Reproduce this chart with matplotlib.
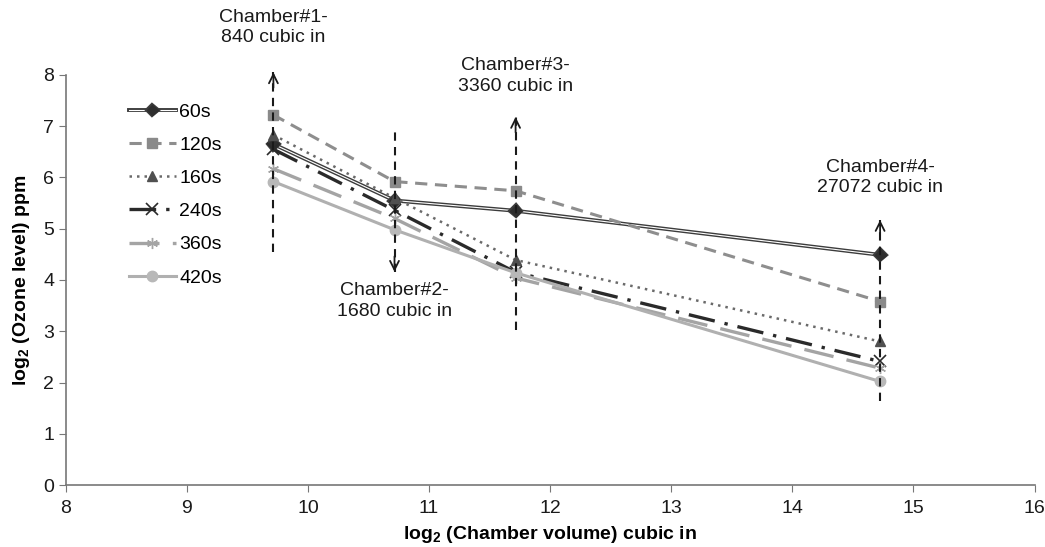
import numpy as np
import matplotlib
matplotlib.use("Agg")
from matplotlib import pyplot as plt
import matplotlib.patheffects as pe

plt.rcParams['font.family'] = ['Liberation Sans', 'DejaVu Sans']
plt.rcParams['mathtext.fontset'] = 'custom'
plt.rcParams['mathtext.rm'] = 'Liberation Sans'
plt.rcParams['mathtext.bf'] = 'Liberation Sans:bold'

# chamber volumes (cubic in) and ozone levels, log2 scale
volumes = [840, 1680, 3360, 27072]
x_vals = np.log2(volumes)

y_60s = [6.65, 5.55, 5.35, 4.49]
y_120s = [7.22, 5.92, 5.74, 3.58]
y_160s = [6.83, 5.60, 4.39, 2.80]
y_240s = [6.55, 5.36, 4.15, 2.41]
y_360s = [6.17, 5.20, 4.04, 2.28]
y_420s = [5.92, 4.98, 4.14, 2.02]

chamber_labels = ["Chamber#1-\n840 cubic in", "Chamber#2-\n1680 cubic in",
                  "Chamber#3-\n3360 cubic in", "Chamber#4-\n27072 cubic in"]

fig = plt.figure(figsize=(10.45, 5.47), dpi=100)
ax = fig.add_axes([0.063, 0.1133, 0.927, 0.7497])

# 60s: double line (dark outline, white core)
ax.plot(x_vals, y_60s, color='white', lw=0.8, marker='D', ms=5.5,
        mfc='#2e2e2e', mec='#2e2e2e', label='60s',
        path_effects=[pe.Stroke(linewidth=2.8, foreground='#3c3c3c'), pe.Normal()])
ax.plot(x_vals, y_120s, color='#8e8e8e', lw=2.2, ls=(0, (4, 2.5)), marker='s', ms=7,
        mfc='#8a8a8a', mec='#8a8a8a', label='120s')
ax.plot(x_vals, y_160s, color='#6a6a6a', lw=1.8, ls=(0, (1, 2)), marker='^', ms=7,
        mfc='#505050', mec='#505050', label='160s')
ax.plot(x_vals, y_240s, color='#2a2a2a', lw=2.4, ls=(0, (8, 3, 1, 3)), marker='x', ms=8,
        mew=1.2, mec='#2a2a2a', label='240s')
ax.plot(x_vals, y_360s, color='#a4a4a4', lw=2.4, ls=(0, (9, 4)), marker=(6, 2, 0), ms=8,
        mew=1.0, mec='#a4a4a4', label='360s')
ax.plot(x_vals, y_420s, color='#b0b0b0', lw=2.2, marker='o', ms=7.5,
        mfc='#b8b8b8', mec='#b8b8b8', label='420s')

# vertical dashed arrows through each chamber
arrow_lo = [4.55, 4.16, 3.02, 1.63]
arrow_hi = [8.05, 6.97, 7.18, 5.17]
arrow_up = [True, False, True, True]
for xv, lo, hi, up in zip(x_vals, arrow_lo, arrow_hi, arrow_up):
    ax.plot([xv, xv], [lo, hi], color='#1a1a1a', lw=1.5, ls=(0, (4, 3)), zorder=5,
            clip_on=False)
    tip, tail = (hi, hi - 0.3) if up else (lo, lo + 0.3)
    ax.annotate('', xy=(xv, tip), xytext=(xv, tail), zorder=6, annotation_clip=False,
                arrowprops=dict(arrowstyle='->', color='#1a1a1a', lw=1.3,
                                mutation_scale=16, shrinkA=0, shrinkB=0))

label_pos = [(x_vals[0], 8.92), (x_vals[1], 3.59), (x_vals[2], 7.98), (x_vals[3], 6.0)]
for (lx, ly), txt in zip(label_pos, chamber_labels):
    ax.text(lx, ly, txt, ha='center', va='center', fontsize=14, linespacing=1.25,
            color='#1a1a1a', clip_on=False)

ax.set_xlim(8, 16)
ax.set_ylim(0, 8)
ax.set_xticks(range(8, 17))
ax.set_yticks(range(0, 9))
ax.tick_params(labelsize=14, length=5, color='#777777', direction='out',
               labelcolor='#1a1a1a')
ax.tick_params(axis='x', pad=6)
for side in ['top', 'right']:
    ax.spines[side].set_visible(False)
for side in ['left', 'bottom']:
    ax.spines[side].set_color('#777777')
    ax.spines[side].set_linewidth(1.2)

ax.set_xlabel(r'log$_{\mathbf{2}}$ (Chamber volume) cubic in', fontsize=14,
              fontweight='bold', labelpad=5)
ax.set_ylabel(r'log$_{\mathbf{2}}$ (Ozone level) ppm', fontsize=14,
              fontweight='bold', labelpad=8)

ax.legend(loc='upper left', bbox_to_anchor=(0.055, 0.955), frameon=False, fontsize=14,
          handlelength=2.4, labelspacing=0.8, handletextpad=0.2, borderpad=0)

fig.savefig('out.png', dpi=100)
